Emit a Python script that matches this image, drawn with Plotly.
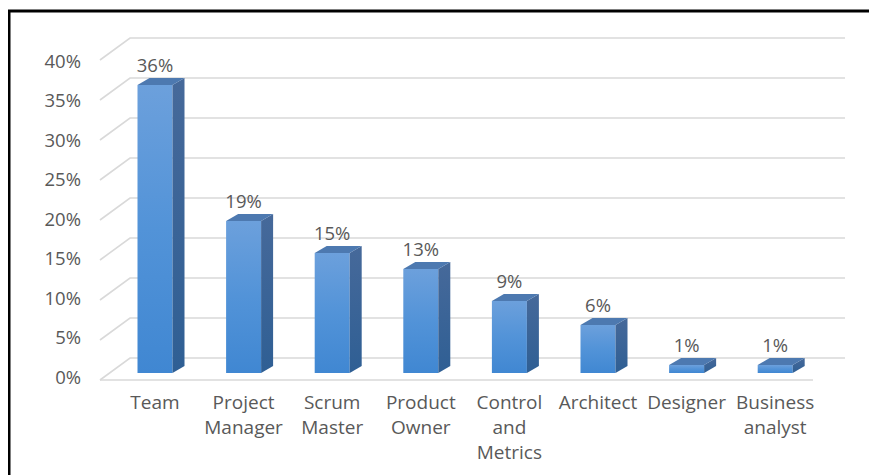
import plotly.graph_objects as go

categories = ["Team", "Project<br>Manager", "Scrum<br>Master", "Product<br>Owner",
              "Control<br>and<br>Metrics", "Architect", "Designer", "Business<br>analyst"]
values = [36, 19, 15, 13, 9, 6, 1, 1]
value_labels = ["36%", "19%", "15%", "13%", "9%", "6%", "1%", "1%"]
y_ticks = [0, 5, 10, 15, 20, 25, 30, 35, 40]
y_tick_labels = ["0%", "5%", "10%", "15%", "20%", "25%", "30%", "35%", "40%"]

W, H = 877, 475
OFF = 8          # page body margin in the browser
PX_X = 88.6      # pixels per category
PX_Y = 8.0       # pixels per percent
X0_PX = 155 - OFF   # pixel of first category centre
Y0_PX = 373 - OFF   # pixel of 0% on bar front plane

def px2x(px):   # screenshot pixel -> x data
    return (px - OFF - X0_PX) / PX_X

def dy2v(dpx):  # upward pixel offset -> value units
    return dpx / PX_Y

xs = list(range(len(categories)))

# 3D geometry (in data units)
front_dy = dy2v(-7)
back_dy = dy2v(15)
left_front_x = px2x(100)
left_back_x = px2x(130)
right_back_x = px2x(845)
right_front_x = px2x(813)
half_w = 17.5 / PX_X
depth_dx = 12 / PX_X
depth_dy = dy2v(7)
label_scale = 7.9 / 8.0   # label axis slightly compressed vs. wall

TEXT = "#595959"
GRID = "#d9d9d9"
FONT = "'Open Sans', Lato, sans-serif"
FS_CAT = 19
FS_NUM = 18.5

fig = go.Figure()

# wall gridlines
gx, gy = [], []
for v in y_ticks:
    gx += [left_front_x, left_back_x, right_back_x, None]
    gy += [v + front_dy, v + back_dy, v + back_dy, None]
gx += [left_front_x, right_front_x, None]
gy += [front_dy, front_dy, None]
fig.add_trace(go.Scatter(x=gx, y=gy, mode="lines",
                         line=dict(color=GRID, width=1.6),
                         hoverinfo="skip", showlegend=False))

# bars: front, side and top faces
for x, v in zip(xs, values):
    xr = x + half_w
    xl = x - half_w
    fig.add_trace(go.Scatter(
        x=[xl, xr, xr, xl, xl], y=[0, 0, v, v, 0], mode="lines", fill="toself",
        fillgradient=dict(type="vertical",
                          colorscale=[[0, "#4087d2"], [0.5, "#5293d8"], [1, "#6ca0dc"]]),
        line=dict(width=0, color="#5293d8"), hoverinfo="skip", showlegend=False))
    fig.add_trace(go.Scatter(
        x=[xr, xr + depth_dx, xr + depth_dx, xr, xr],
        y=[0, depth_dy, v + depth_dy, v, 0], mode="lines", fill="toself",
        fillgradient=dict(type="vertical",
                          colorscale=[[0, "#2f5f94"], [1, "#46699a"]]),
        line=dict(width=0, color="#3a6598"), hoverinfo="skip", showlegend=False))
    fig.add_trace(go.Scatter(
        x=[xl, xr, xr + depth_dx, xl + depth_dx, xl],
        y=[v, v, v + depth_dy, v + depth_dy, v], mode="lines", fill="toself",
        fillcolor="#4d79b0", line=dict(width=0, color="#4d79b0"),
        hoverinfo="skip", showlegend=False))

# data labels
fig.add_trace(go.Scatter(x=xs, y=[v + dy2v(18) for v in values], mode="text",
                         text=value_labels, textposition="middle center",
                         textfont=dict(family=FONT, size=FS_NUM, color=TEXT),
                         hoverinfo="skip", showlegend=False))

# y tick labels (front plane)
fig.add_trace(go.Scatter(x=[px2x(81)] * len(y_ticks),
                         y=[v * label_scale + front_dy + dy2v(1) for v in y_ticks], mode="text",
                         text=y_tick_labels, textposition="middle left",
                         textfont=dict(family=FONT, size=FS_NUM, color=TEXT),
                         hoverinfo="skip", showlegend=False))

# category labels
fig.add_trace(go.Scatter(x=xs, y=[dy2v(-22)] * len(xs), mode="text",
                         text=categories, textposition="bottom center",
                         textfont=dict(family=FONT, size=FS_CAT, color=TEXT),
                         hoverinfo="skip", showlegend=False))

fig.update_layout(
    width=W, height=H,
    margin=dict(l=0, r=0, t=0, b=0),
    paper_bgcolor="white", plot_bgcolor="white",
    xaxis=dict(range=[px2x(OFF), px2x(OFF + W)], visible=False, fixedrange=True),
    yaxis=dict(range=[dy2v(Y0_PX - H), dy2v(Y0_PX)], visible=False, fixedrange=True),
    shapes=[dict(type="rect", xref="paper", yref="paper",
                 x0=(8 - OFF + 1) / W, x1=1.05, y0=-0.05, y1=1 - (10 - OFF + 1) / H,
                 line=dict(color="black", width=3), layer="above")],
)

fig.write_html("out.html")
